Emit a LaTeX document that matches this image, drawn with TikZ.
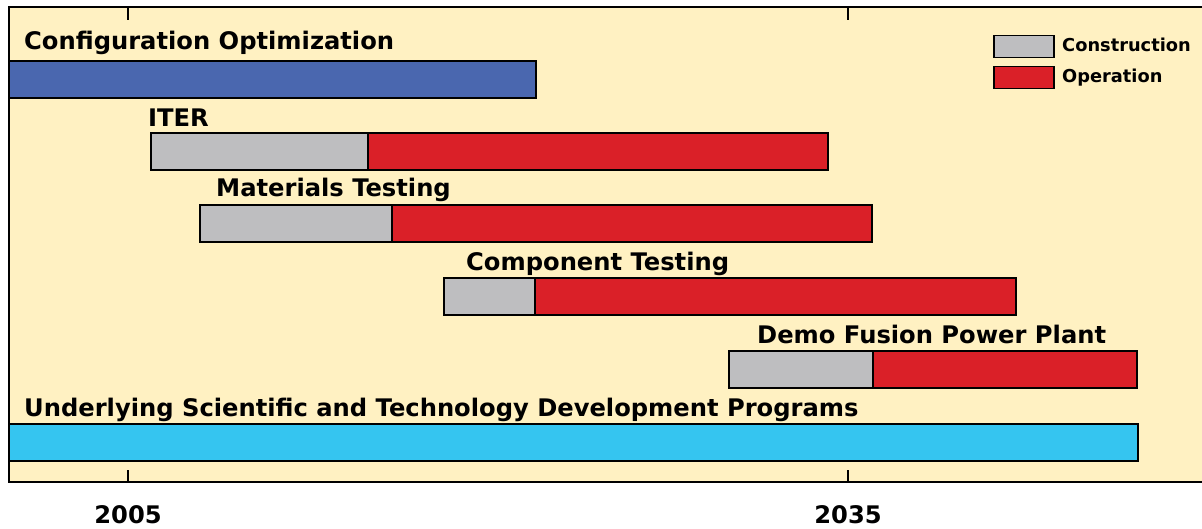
\documentclass[tikz,border=0pt]{standalone}
\usepackage{fontspec}
\setmainfont{DejaVu Sans}
\definecolor{panel}{RGB}{255,241,194}
\definecolor{cfgblue}{RGB}{74,103,175}
\definecolor{constgray}{RGB}{190,190,192}
\definecolor{opred}{RGB}{218,32,40}
\definecolor{undcyan}{RGB}{53,197,240}
\tikzset{
  bar/.style={draw=black, line width=1.8pt, inner sep=0pt, outer sep=0pt, anchor=north west, minimum height=37pt},
  lbl/.style={anchor=base west, inner sep=0pt, font=\fontsize{24.2}{27}\selectfont\bfseries},
  leg/.style={anchor=base west, inner sep=0pt, font=\fontsize{17.8}{20}\selectfont\bfseries},
  legbox/.style={draw=black, line width=1.5pt, inner sep=0pt, anchor=north west, minimum width=60pt, minimum height=22pt},
  yearlbl/.style={anchor=base, inner sep=0pt, font=\fontsize{24.2}{27}\selectfont\bfseries},
  tick/.style={line width=2.4pt}
}
\begin{document}
\begin{tikzpicture}[x=1pt,y=-1pt]
\useasboundingbox (0,0) rectangle (1202,529);
% panel
\fill[panel] (9,7) rectangle (1203,482);
\draw[line width=2.6pt] (1203,7) -- (9,7) -- (9,482) -- (1203,482);
% ticks
\coordinate (t1top) at (128,7);
\coordinate (t1topend) at (128,20);
\coordinate (t2top) at (848,7);
\coordinate (t2topend) at (848,20);
\coordinate (t1bot) at (128,482);
\coordinate (t1botend) at (128,470);
\coordinate (t2bot) at (848,482);
\coordinate (t2botend) at (848,470);
\draw[tick] (t1top) -- (t1topend);
\draw[tick] (t2top) -- (t2topend);
\draw[tick] (t1bot) -- (t1botend);
\draw[tick] (t2bot) -- (t2botend);
% years
\node[yearlbl] (y2005) at (128,523) {2005};
\node[yearlbl] (y2035) at (848,523) {2035};
% Configuration Optimization
\node[lbl] (cfgl) at (24,50) {Configuration Optimization};
\node[bar, fill=cfgblue, minimum width=527pt] (cfg) at (9,61) {};
% ITER
\node[lbl] (iterl) at (148,127) {ITER};
\node[bar, fill=constgray, minimum width=217pt] (iterc) at (151,133) {};
\node[bar, fill=opred, minimum width=460pt] (itero) at (368,133) {};
% Materials Testing
\node[lbl] (matl) at (216,197) {Materials Testing};
\node[bar, fill=constgray, minimum width=192pt] (matc) at (200,205) {};
\node[bar, fill=opred, minimum width=480pt] (mato) at (392,205) {};
% Component Testing
\node[lbl] (compl) at (466,271) {Component Testing};
\node[bar, fill=constgray, minimum width=91pt] (compc) at (444,278) {};
\node[bar, fill=opred, minimum width=481pt] (compo) at (535,278) {};
% Demo
\node[lbl] (demol) at (757,344) {Demo Fusion Power Plant};
\node[bar, fill=constgray, minimum width=144pt] (democ) at (729,351) {};
\node[bar, fill=opred, minimum width=264pt] (demoo) at (873,351) {};
% Underlying
\node[lbl] (undl) at (24,416) {Underlying Scientific and Technology Development Programs};
\node[bar, fill=undcyan, minimum width=1129pt] (und) at (9,424) {};
% legend
\node[legbox, fill=constgray] (legc) at (993,35) {};
\node[leg] (legct) at (1062,52) {Construction};
\node[legbox, fill=opred] (lego) at (993,66) {};
\node[leg] (legot) at (1062,83) {Operation};
\end{tikzpicture}
\end{document}
